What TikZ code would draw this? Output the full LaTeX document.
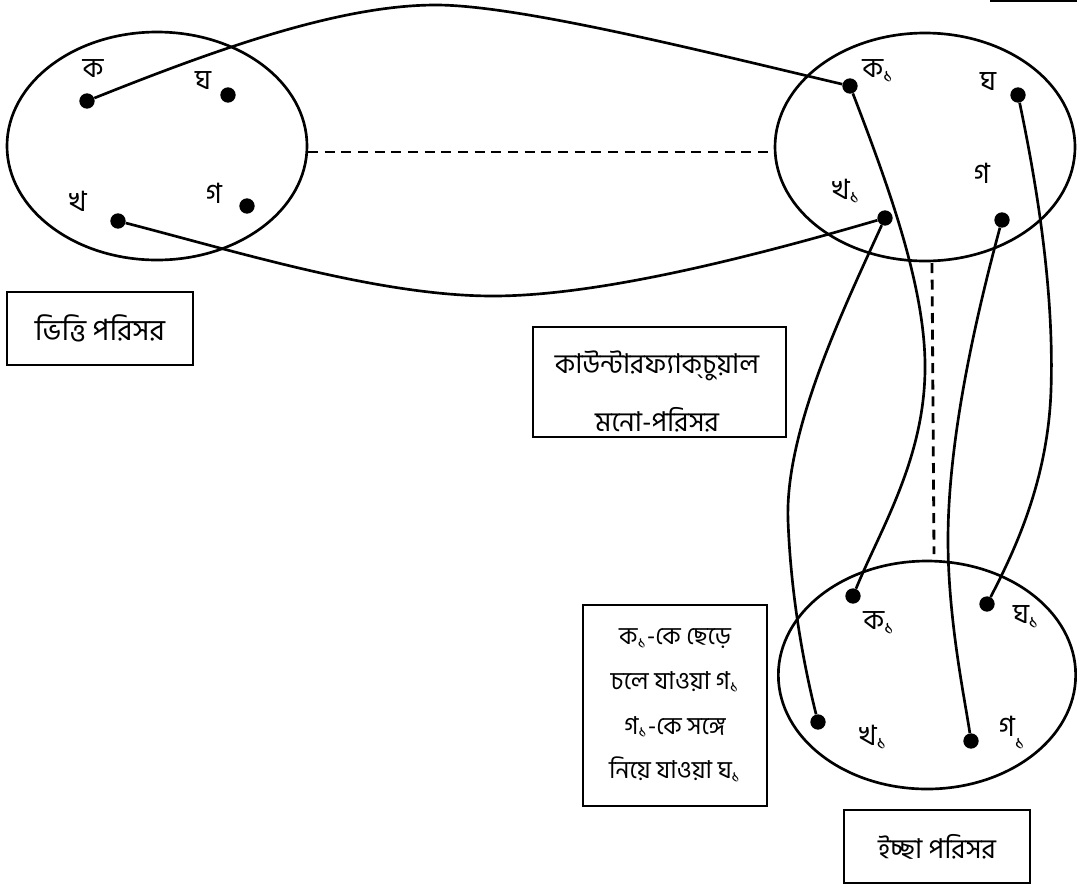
\documentclass[tikz,border=0pt]{standalone}
\usepackage{fontspec}
\newfontfamily\bn[Script=Bengali]{Hind Siliguri}
\usetikzlibrary{shapes.geometric}
\newcommand{\sone}{\textsubscript{১}}
\begin{document}
\begin{tikzpicture}[x=0.75pt,y=-0.75pt,
  ell/.style={ellipse,draw,line width=2pt,inner sep=0pt,minimum width=225pt,minimum height=171pt},
  dot/.style={circle,fill=black,inner sep=0pt,minimum size=11.5pt},
  lbl/.style={inner sep=0pt,font=\bn\fontsize{21}{25}\selectfont},
  box/.style={draw,line width=1.4pt,inner sep=0pt,align=center},
  txt/.style={inner sep=0pt,align=center},
  link/.style={line width=2pt},
  dashline/.style={line width=2.1pt,dash pattern=on 7.5pt off 5pt},
]
\useasboundingbox (0,0) rectangle (1077,886);

% ellipses
\node[ell] (L) at (157,146) {};
\node[ell] (R) at (925,147) {};
\node[ell,minimum width=223pt] (B) at (927,675) {};

% dots left
\node[dot] (ka)  at (87,101) {};
\node[dot] (gha) at (228,95) {};
\node[dot] (ga)  at (247,206) {};
\node[dot] (kha) at (118,221) {};
% dots top right
\node[dot] (ka1)  at (850,86) {};
\node[dot] (ghaR) at (1018,95) {};
\node[dot] (kha1) at (885,218) {};
\node[dot] (gaR)  at (1002,220) {};
% dots bottom
\node[dot] (ka1b)  at (853,596) {};
\node[dot] (gha1b) at (987,604) {};
\node[dot] (kha1b) at (818,722) {};
\node[dot] (ga1b)  at (971,741) {};

% labels left
\node[lbl] (lka)  at (93,69)  {ক};
\node[lbl] (lgha) at (203,81) {ঘ};
\node[lbl] (lga)  at (214,193) {গ};
\node[lbl] (lkha) at (78,201) {খ};
% labels top right
\node[lbl] (lka1)  at (878,71)  {ক\sone};
\node[lbl] (lghaR) at (988,82)  {ঘ};
\node[lbl] (lgaR)  at (982,173) {গ};
\node[lbl] (lkha1) at (846,191) {খ\sone};
% labels bottom
\node[lbl] (lka1b)  at (879,623)  {ক\sone};
\node[lbl] (lgha1b) at (1026,617) {ঘ\sone};
\node[lbl] (lkha1b) at (873,737)  {খ\sone};
\node[lbl] (lga1b)  at (1012,733) {গ\textsubscript{\raisebox{-0.9ex}{১}}};

% boxes
\node[box,font=\bn\fontsize{22}{26}\selectfont,minimum width=139.5pt,minimum height=54.75pt] (bL) at (100,328.5) {ভিত্তি পরিসর};
\node[box,minimum width=189.75pt,minimum height=82.5pt] (bC) at (659.5,382) {};
\node[txt,font=\bn\fontsize{20.5}{43.5}\selectfont] (tC) at (657,391) {কাউন্টারফ্যাক্^^^^200cচুয়াল\\মনো-পরিসর};
\node[box,font=\bn\fontsize{18.5}{33.5}\selectfont,minimum width=138pt,minimum height=150.75pt] (bT) at (675,705.5) {ক\sone-কে ছেড়ে\\চলে যাওয়া গ\sone\\গ\sone-কে সঙ্গে\\নিয়ে যাওয়া ঘ\sone};
\node[box,font=\bn\fontsize{20.5}{24}\selectfont,minimum width=139.5pt,minimum height=54.75pt] (bB) at (937,846.5) {ইচ্ছা পরিসর};

% partial edge top right
\coordinate (e1) at (990,1);
\coordinate (e2) at (1077,1);
\draw[line width=1.4pt] (e1) -- (e2);

% dashed links
\coordinate (dl) at (308,152);
\coordinate (dr) at (775,152);
\draw[dashline] (dl) -- (dr);
\coordinate (vt) at (932,263);
\coordinate (vb) at (934,554);
\draw[dashline] (vt) -- (vb);

% connectors
\coordinate (pA) at (436,5);
\draw[link] (ka) .. controls (217,49) and (340,5) .. (pA) .. controls (520,5) and (710,53) .. (ka1);
\coordinate (pB) at (493,296);
\draw[link] (kha) .. controls (238,252) and (380,296) .. (pB) .. controls (600,296) and (755,256) .. (kha1);
\coordinate (m1) at (925,370);
\draw[link] (ka1) .. controls (890,190) and (926,290) .. (m1) .. controls (924,460) and (880,530) .. (ka1b);
\coordinate (m2) at (788,520);
\draw[link] (kha1) .. controls (844,308) and (785,430) .. (m2) .. controls (791,600) and (805,670) .. (kha1b);
\coordinate (m3) at (948,540);
\draw[link] (gaR) .. controls (975,320) and (948,440) .. (m3) .. controls (948,620) and (965,700) .. (ga1b);
\coordinate (m4) at (1051,390);
\draw[link] (ghaR) .. controls (1040,200) and (1054,300) .. (m4) .. controls (1048,480) and (1015,550) .. (gha1b);
\end{tikzpicture}
\end{document}
